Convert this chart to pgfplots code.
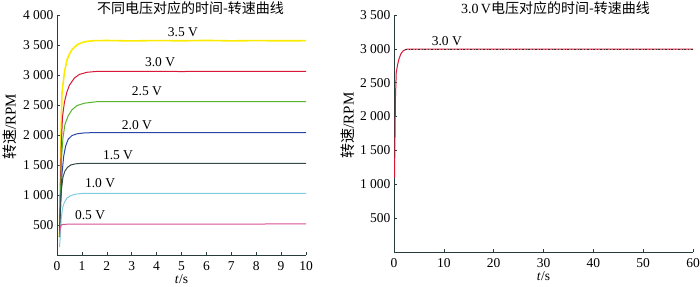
\documentclass[border=0pt]{standalone}
\usepackage{fontspec}
\setmainfont{Liberation Serif}
\newfontfamily\cjk{Noto Sans CJK SC}
\usepackage{pgfplots}
\pgfplotsset{compat=1.18}
\definecolor{cyel}{RGB}{250,235,0}
\definecolor{cred}{RGB}{215,25,55}
\definecolor{cgre}{RGB}{85,180,45}
\definecolor{cblu}{RGB}{40,70,170}
\definecolor{cgry}{RGB}{55,75,75}
\definecolor{ccya}{RGB}{125,205,220}
\definecolor{cmag}{RGB}{215,80,150}
\definecolor{axc}{RGB}{40,60,60}
\newcommand{\fs}{\fontsize{13.5}{13.5}\selectfont}
\pgfplotsset{
  mystyle/.style={
    scale only axis,
    axis lines=left,
    axis line style={-, axc, line width=0.7pt},
    tick align=inside,
    tick style={axc, line width=0.6pt},
    major tick length=3pt,
    ticklabel style={font=\fs},
    xticklabel style={yshift=-3pt},
    /pgf/number format/1000 sep={\ },
    /pgf/number format/assume math mode=true,
    xlabel={\textit{t}/s},
    ylabel={{\cjk 转速}/RPM},
    label style={font=\fs},
    xlabel style={at={(axis description cs:0.5,0)}, anchor=center, yshift=-24pt},
    ylabel style={at={(axis description cs:0,0.5)}, anchor=center, yshift=47pt, xshift=8pt, font=\fontsize{15}{15}\selectfont},
    clip=false,
  }
}
\begin{document}
\begin{tikzpicture}[x=1pt,y=1pt]
\path[use as bounding box] (0,0) rectangle (700,286);
\begin{axis}[mystyle,
  at={(57pt,31pt)}, anchor=south west,
  width=249pt, height=240pt,
  xmin=0, xmax=10, ymin=0, ymax=4000,
  xtick={0,1,...,10}, ytick={500,1000,...,4000},
]
\addplot[cyel, line width=1.6pt] coordinates {(0.10,300)(0.13,1200)(0.16,2000)(0.2,2700)(0.3,3050)(0.4,3250)(0.5,3350)(0.6,3420)(0.8,3500)(1.0,3540)(1.2,3560)(1.5,3572)(2,3575)(3,3568)(4,3574)(5,3570)(6,3576)(7,3569)(8,3573)(9,3570)(10,3572)};
\addplot[cred, line width=1.0pt] coordinates {(0.10,300)(0.13,1000)(0.17,1800)(0.22,2300)(0.3,2550)(0.4,2720)(0.5,2830)(0.7,2950)(0.9,3010)(1.2,3045)(1.6,3060)(3,3062)(5,3058)(7,3062)(10,3060)};
\addplot[cgre, line width=1.0pt] coordinates {(0.10,300)(0.14,1000)(0.18,1600)(0.24,1950)(0.32,2180)(0.45,2320)(0.6,2420)(0.8,2490)(1.1,2530)(1.6,2555)(10,2555)};
\addplot[cblu, line width=1.0pt] coordinates {(0.1,300)(0.15,900)(0.2,1350)(0.27,1650)(0.35,1820)(0.45,1930)(0.6,1990)(0.8,2020)(1.1,2035)(1.5,2040)(10,2040)};
\addplot[cgry, line width=1.0pt] coordinates {(0.1,300)(0.14,800)(0.18,1100)(0.24,1300)(0.32,1400)(0.42,1460)(0.55,1500)(0.75,1520)(1.0,1528)(10,1528)};
\addplot[ccya, line width=1.0pt] coordinates {(0.1,130)(0.13,300)(0.17,600)(0.22,780)(0.3,880)(0.4,950)(0.55,990)(0.75,1015)(1.0,1025)(10,1028)};
\addplot[cmag, line width=1.0pt] coordinates {(0.1,300)(0.13,450)(0.17,500)(0.25,510)(0.5,515)(10,517)};
\node[font=\fs] at (axis cs:5.06,3717) {3.5 V};
\node[font=\fs] at (axis cs:4.14,3217) {3.0 V};
\node[font=\fs] at (axis cs:3.61,2733) {2.5 V};
\node[font=\fs] at (axis cs:3.21,2167) {2.0 V};
\node[font=\fs] at (axis cs:2.45,1667) {1.5 V};
\node[font=\fs] at (axis cs:1.73,1200) {1.0 V};
\node[font=\fs] at (axis cs:1.33,667) {0.5 V};
\node[font=\cjk\fontsize{14}{14}\selectfont, inner sep=0pt] at (rel axis cs:0.536,1.03) {不同电压对应的时间-转速曲线};
\end{axis}
\begin{axis}[mystyle,
  at={(394pt,34pt)}, anchor=south west,
  width=299pt, height=237pt,
  xmin=0, xmax=60, ymin=0, ymax=3500,
  xtick={0,10,...,60}, ytick={500,1000,...,3500},
  ylabel style={yshift=-1pt},
]
\addplot[cred, line width=1.0pt] coordinates {(0.1,1100)(0.2,1700)(0.3,2300)(0.45,2650)(0.7,2760)(1.0,2850)(1.4,2930)(1.9,2975)(2.6,2995)(60,2995)};
\addplot[black!80, line width=0.4pt, dash pattern=on 2pt off 2pt on 0.5pt off 2pt] coordinates {(2.2,2998)(60,2998)};
\node[font=\fs] at (axis cs:10.6,3116) {3.0 V};
\node[font=\cjk\fontsize{14}{14}\selectfont, inner sep=0pt] at (rel axis cs:0.54,1.03) {{\rmfamily 3.0\,V}电压对应的时间-转速曲线};
\end{axis}
\end{tikzpicture}
\end{document}
